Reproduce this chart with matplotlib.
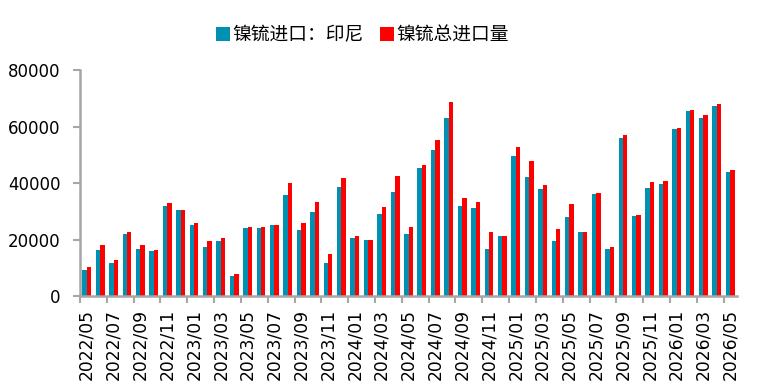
import matplotlib
matplotlib.use("Agg")
import matplotlib.pyplot as plt
import numpy as np

plt.rcParams['font.family'] = ['DejaVu Sans', 'Noto Sans CJK SC']

months = [f"{y}/{m:02d}" for y in range(2022, 2027) for m in range(1, 13)]
months = months[months.index("2022/05"):months.index("2026/05") + 1]

indonesia = [9.35, 16.4, 11.8, 22.1, 16.8, 16.1, 31.7, 30.3,
             25.3, 17.5, 19.6, 7.2, 23.9, 23.9, 25.0, 35.6, 23.2, 29.9, 11.8, 38.5,
             20.7, 20.0, 28.9, 36.7, 22.1, 45.2, 51.6, 63.0, 31.7, 31.0, 16.8, 21.1,
             49.5, 42.0, 37.8, 19.6, 27.8, 22.5, 36.0, 16.8, 55.9, 28.2, 38.1, 39.5,
             59.1, 65.4, 63.0, 67.2, 43.8]
total = [10.1, 18.2, 12.9, 22.5, 17.9, 16.4, 32.8, 30.3,
         25.7, 19.6, 20.4, 7.9, 24.6, 24.6, 25.3, 39.9, 26.0, 33.1, 15.0, 41.7,
         21.4, 20.0, 31.4, 42.4, 24.3, 46.3, 55.1, 68.6, 34.6, 33.1, 22.8, 21.4,
         52.7, 47.7, 39.2, 23.6, 32.4, 22.8, 36.3, 17.2, 56.9, 28.5, 40.2, 40.6,
         59.4, 65.8, 64.0, 67.9, 44.5]
indonesia = [v * 1000 for v in indonesia]
total = [v * 1000 for v in total]

fig = plt.figure(figsize=(7.58, 3.91), dpi=100)
ax = fig.add_axes([80/758, 1 - 296/391, 657/758, 226/391])

x = np.arange(len(months))
w = 0.33
ax.bar(x - w/2, indonesia, width=w, color='#0090B2', label='镍锍进口：印尼')
ax.bar(x + w/2, total, width=w, color='#FF0000', label='镍锍总进口量')

ax.set_xlim(-0.5, len(months) - 0.5)
ax.set_ylim(0, 80000)
ax.set_yticks(np.arange(0, 80001, 20000))
ax.tick_params(axis='y', labelsize=12, length=5, width=1.5, color='#A6A6A6', pad=9)

ax.set_xticks(x[::2])
ax.set_xticklabels(months[::2], rotation=90, fontsize=12.3)
ax.tick_params(axis='x', length=0, pad=9)
ax.set_xticks(np.arange(-0.5, len(months), 2), minor=True)
ax.tick_params(axis='x', which='minor', length=5, width=1.5, color='#A6A6A6')

for s in ['top', 'right']:
    ax.spines[s].set_visible(False)
for s in ['left', 'bottom']:
    ax.spines[s].set_color('#A6A6A6')
    ax.spines[s].set_linewidth(1.8)

leg = fig.legend(loc='center', bbox_to_anchor=(0.478, 1 - 35/391), ncol=2, frameon=False,
                 prop={'family': ['Noto Sans CJK SC', 'DejaVu Sans'], 'size': 13.5},
                 handlelength=0.75, handleheight=0.7, handletextpad=0.15, columnspacing=0.85)

fig.savefig('out.png', dpi=100)
